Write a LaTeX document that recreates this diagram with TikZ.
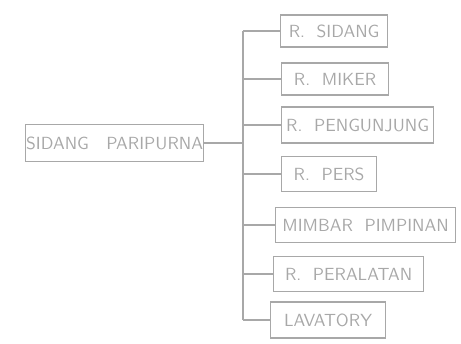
\documentclass[tikz,border=0pt]{standalone}
\usepackage{tikz}
\usetikzlibrary{positioning,calc}
\usepackage{xcolor}
\definecolor{pencil}{gray}{0.66}

\begin{document}
\begin{tikzpicture}[
  x=0.02cm, y=-0.02cm,
  wire/.style={draw=pencil, line width=0.7pt},
  box/.style={draw=pencil, line width=0.7pt, text=pencil, font=\fontsize{10}{12}\selectfont\sffamily, inner sep=0pt, minimum height=0.7cm, anchor=west},
  room/.style={box},
]
  \useasboundingbox (0,0) rectangle (461,344);

  \node[box, minimum width=3.56cm, minimum height=0.74cm] (root) at (25,143) {SIDANG\ \ \ PARIPURNA};

  % Rooms
  \node[room, minimum width=2.14cm, minimum height=0.64cm] (rSidang) at (280,31) {R.\ \ SIDANG};
  \node[room, minimum width=2.14cm, minimum height=0.64cm] (rMiker) at (281,79) {R.\ \ MIKER};
  \node[room, minimum width=3.04cm, minimum height=0.72cm] (rPeng) at (281,125) {R.\ \ PENGUNJUNG};
  \node[room, minimum width=1.9cm] (rPers) at (281,174) {R.\ \ PERS};
  \node[room, minimum width=3.6cm] (rMimbar) at (275,225) {MIMBAR\ \ PIMPINAN};
  \node[room, minimum width=3.0cm] (rAlat) at (273,274) {R.\ \ PERALATAN};
  \node[room, minimum width=2.3cm, minimum height=0.72cm] (rLav) at (270,320) {LAVATORY};

  % Trunk
  \coordinate (trunk) at (243,0);
  \coordinate (tTop) at (trunk |- rSidang.west);
  \coordinate (tBot) at (trunk |- rLav.west);
  \draw[wire] (tTop) -- (tBot);
  \draw[wire] (root.east) -- (trunk |- root.east);

  % Branches
  \foreach \r in {rSidang,rMiker,rPeng,rPers,rMimbar,rAlat,rLav}
    \draw[wire] (trunk |- \r.west) -- (\r.west);
\end{tikzpicture}
\end{document}
